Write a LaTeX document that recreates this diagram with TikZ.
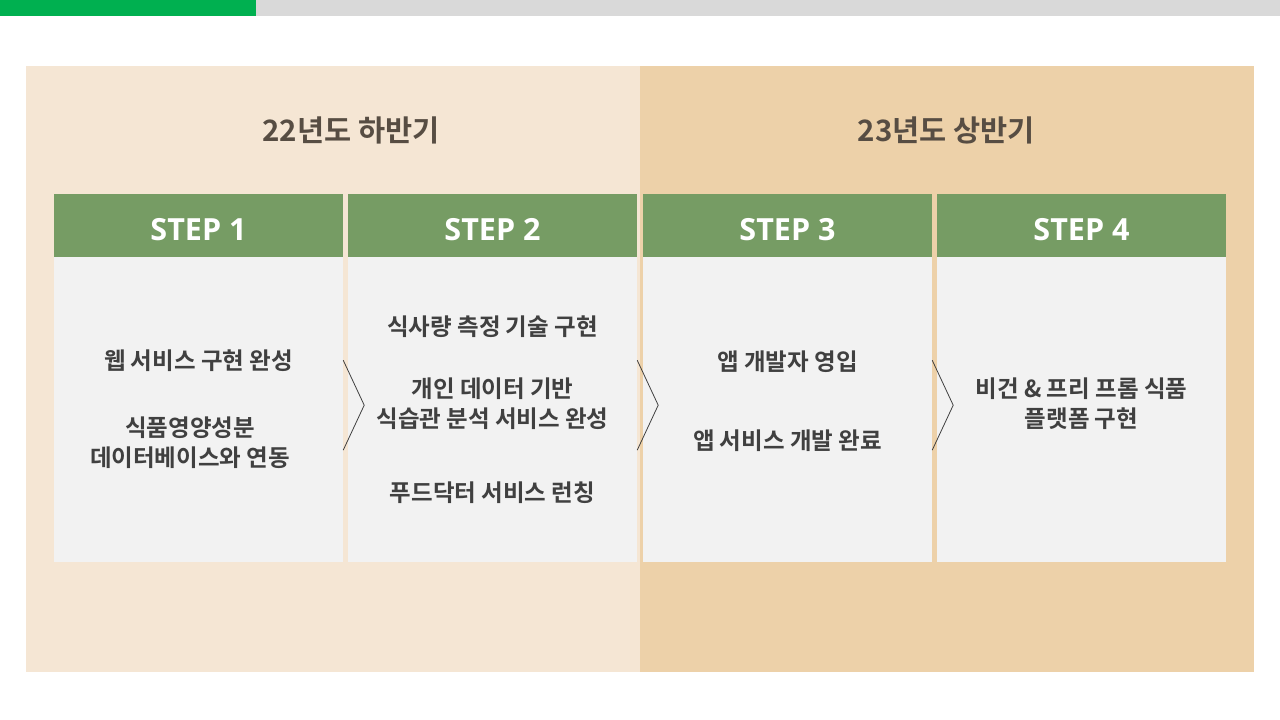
\documentclass[tikz,border=0pt]{standalone}
\usepackage{fontspec}
\setmainfont{Noto Sans CJK KR}[BoldFont={* Bold}]
\newfontfamily\krfont{Noto Sans CJK KR Bold}
\newfontfamily\stepfont{Open Sans}
\usetikzlibrary{calc}
\definecolor{topgreen}{HTML}{00B050}
\definecolor{topgray}{HTML}{D9D9D9}
\definecolor{bgleft}{HTML}{F5E6D4}
\definecolor{bgright}{HTML}{EDD1A9}
\definecolor{headgreen}{HTML}{769C64}
\definecolor{bodygray}{HTML}{F2F2F2}
\definecolor{titlecol}{HTML}{574D43}
\definecolor{textcol}{HTML}{404040}
\tikzset{
  headbox/.style={fill=headgreen, draw=none, minimum width=289pt, minimum height=63pt, inner sep=0pt},
  steplabel/.style={text=white, inner sep=0pt, font=\stepfont\bfseries\fontsize{30.5}{36}\selectfont},
  bodybox/.style={fill=bodygray, draw=none, minimum width=289pt, minimum height=305pt, inner sep=0pt},
  item/.style={text=textcol, font=\krfont\fontsize{23.5}{30}\selectfont, align=center, inner sep=0pt},
  yeartitle/.style={text=titlecol, font=\krfont\fontsize{29.5}{34}\selectfont, inner sep=0pt},
  chev/.style={draw=textcol, line width=0.8pt}
}
\begin{document}
\begin{tikzpicture}[x=1pt,y=-1pt]
\useasboundingbox (0,0) rectangle (1280,720);
\fill[white] (0,0) rectangle (1280,720);
% top bar
\fill[topgreen] (0,0) rectangle (256,16);
\fill[topgray] (256,0) rectangle (1280,16);
% backgrounds
\fill[bgleft] (26,66) rectangle (640,672);
\fill[bgright] (640,66) rectangle (1254,672);
% titles
\node[yeartitle] (t1) at (351,130) {22년도 하반기};
\node[yeartitle] (t2) at (946.5,130) {23년도 상반기};
% headers
\node[headbox] (h1) at (198.5,225.5) {};
\node[headbox] (h2) at (492.5,225.5) {};
\node[headbox] (h3) at (787.5,225.5) {};
\node[headbox] (h4) at (1081.5,225.5) {};
\foreach \a in {1,...,4}{
  \node[steplabel] (s\a) at ($(h\a.center)+(0,4.5)$) {STEP \a};
}
% bodies
\node[bodybox, anchor=north] (b1) at (h1.south) {};
\node[bodybox, anchor=north] (b2) at (h2.south) {};
\node[bodybox, anchor=north] (b3) at (h3.south) {};
\node[bodybox, anchor=north] (b4) at (h4.south) {};
% chevrons
\foreach \a in {1,2,3}{
  \draw[chev] ($(b\a.north east)+(0,103)$) -- ($(b\a.north east)+(21,148)$) -- ($(b\a.north east)+(0,193)$);
}
% items
\node[item] (i11) at (198.5,361) {웹 서비스 구현 완성};
\node[item] (i12) at (190,443) {식품영양성분\\데이터베이스와 연동};
\node[item] (i21) at (492.5,327) {식사량 측정 기술 구현};
\node[item] (i22) at (492.5,403.5) {개인 데이터 기반\\식습관 분석 서비스 완성};
\node[item] (i23) at (492.5,493) {푸드닥터 서비스 런칭};
\node[item] (i31) at (787.5,362) {앱 개발자 영입};
\node[item] (i32) at (787.5,441) {앱 서비스 개발 완료};
\node[item] (i41) at (1081.5,403.5) {비건 \& 프리 프롬 식품\\플랫폼 구현};
\end{tikzpicture}
\end{document}
